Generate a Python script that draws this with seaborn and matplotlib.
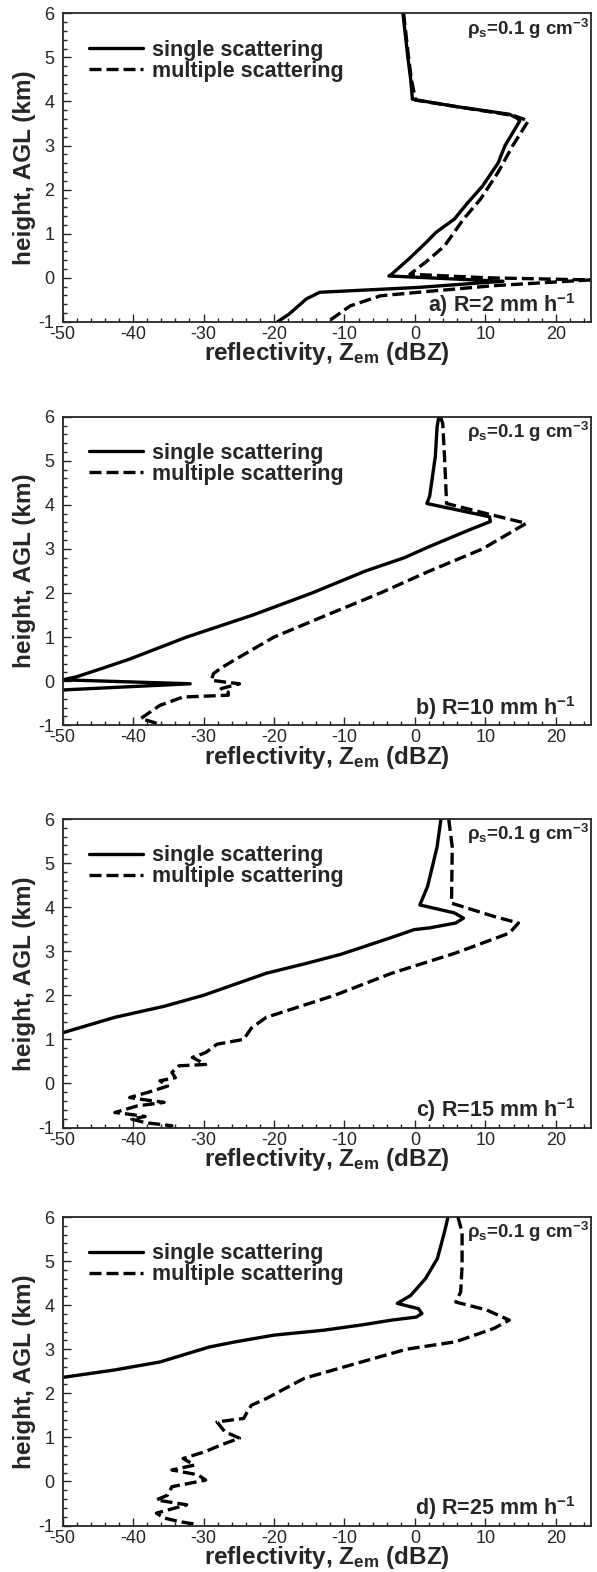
"""
Reflectivity profiles: single vs multiple scattering for four rain rates.
"""

import numpy as np
import pandas as pd
import matplotlib
matplotlib.use("Agg")
import matplotlib.pyplot as plt
from matplotlib.ticker import MultipleLocator
import seaborn as sns


# =============================================================================
# DATA
# =============================================================================

panel_labels = [
    r"a) R=2 mm h$^{\mathbf{-1}}$",
    r"b) R=10 mm h$^{\mathbf{-1}}$",
    r"c) R=15 mm h$^{\mathbf{-1}}$",
    r"d) R=25 mm h$^{\mathbf{-1}}$",
]

# panel a
a_single_z = [-1.7, -1.0, -0.6, -0.35, 0.0, 6.0, 13.4, 14.5, 14.9, 12.8, 11.8,
              9.6, 7.5, 5.6, 3.0, 1.6, -0.9, -3.3, -3.7, 12.5, 0.5, -13.5,
              -15.4, -17.9, -19.5]
a_single_h = [6.0, 5.0, 4.5, 4.05, 4.04, 3.88, 3.71, 3.62, 3.56, 3.0, 2.6,
              2.08, 1.7, 1.33, 1.03, 0.8, 0.42, 0.08, 0.04, -0.08, -0.22, -0.33,
              -0.48, -0.83, -1.0]
a_multi_z = [-1.6, -0.9, -0.5, 0.1, 6.0, 14.0, 16.1, 13.9, 11.8, 9.3, 6.9,
             4.2, 1.5, -0.7, 10.0, 24.9, 11.2, 0.5, -4.9, -9.2, -12.2]
a_multi_h = [6.0, 5.0, 4.5, 4.03, 3.88, 3.68, 3.56, 3.0, 2.39, 1.78, 1.33,
             0.72, 0.35, 0.08, 0.0, -0.05, -0.18, -0.33, -0.41, -0.64, -0.98]

# panel b
b_single_z = [3.4, 3.15, 2.9, 2.1, 1.7, 10.6, 10.7, 8.0, 5.0, 2.0, -1.5,
              -7.0, -14.6, -23.0, -32.4, -40.5, -44.2, -48.0, -50.0, -31.9,
              -50.0]
b_single_h = [6.0, 5.77, 5.1, 4.2, 4.03, 3.73, 3.62, 3.45, 3.25, 3.05, 2.8,
              2.5, 2.0, 1.5, 1.0, 0.5, 0.3, 0.1, 0.03, -0.06,
              -0.2]
b_multi_z = [3.6, 3.95, 4.2, 4.5, 10.2, 15.8, 9.6, 2.1, -4.9, -12.5, -20.0,
             -25.4, -27.5, -28.6, -28.9, -27.0, -24.9, -27.5, -26.5, -26.5,
             -32.9, -36.2, -38.3, -38.9, -37.2, -35.9]
b_multi_h = [6.0, 5.85, 5.1, 4.03, 3.8, 3.58, 3.0, 2.5, 2.0, 1.5, 1.0,
             0.5, 0.3, 0.17, 0.02, -0.02, -0.06, -0.17, -0.25, -0.32,
             -0.36, -0.55, -0.78, -0.85, -0.93, -1.0]

# panel c
c_single_z = [3.7, 3.15, 2.6, 1.8, 0.7, 5.6, 6.9, 5.8, 2.1, -0.1, -2.8, -7.1,
              -10.5, -15.5, -21.1, -30.0, -35.6, -42.6, -50.0]
c_single_h = [6.0, 5.37, 5.0, 4.47, 4.05, 3.87, 3.75, 3.64, 3.53, 3.49, 3.34,
              3.11, 2.93, 2.72, 2.5, 2.0, 1.75, 1.5, 1.15]
c_multi_z = [4.8, 5.3, 5.2, 11.2, 14.7, 13.4, 5.8, -3.3, -11.4, -21.1, -23.2,
             -24.3, -28.1, -29.7, -31.6, -29.7, -33.5, -34.5, -34.0, -36.2,
             -35.1, -37.2, -40.5, -38.9, -35.6, -39.4, -42.6, -40.5, -38.3,
             -40.2, -38.3, -34.5, -35.1]
c_multi_h = [6.0, 5.37, 4.09, 3.79, 3.64, 3.41, 2.96, 2.5, 2.0, 1.5, 1.26,
             1.0, 0.89, 0.7, 0.59, 0.43, 0.4, 0.25, 0.13, 0.06,
             -0.06, -0.17, -0.32, -0.36, -0.43, -0.51, -0.66, -0.7, -0.75,
             -0.81, -0.89, -0.96, -1.0]

# panel d
d_single_z = [4.7, 4.2, 3.2, 1.5, -0.6, -2.5, 0.5, 1.0, 0.2, -3.3, -7.6,
              -13.0, -20.0, -25.4, -29.2, -36.2, -42.6, -50.0]
d_single_h = [6.0, 5.66, 5.06, 4.6, 4.22, 4.04, 3.92, 3.81, 3.73, 3.66, 3.55,
              3.43, 3.32, 3.17, 3.05, 2.71, 2.53, 2.36]
d_multi_z = [6.1, 6.7, 6.7, 6.5, 5.8, 10.2, 13.4, 11.2, 5.8, -1.2, -7.6,
             -15.7, -21.1, -23.2, -23.8, -24.3, -28.1, -27.0, -24.9, -27.5,
             -29.7, -32.9, -31.3, -34.5, -30.8, -29.7, -34.5, -35.1, -36.7,
             -32.4, -36.7, -35.6, -33.5, -30.8]
d_multi_h = [6.0, 5.66, 4.9, 4.3, 4.07, 3.89, 3.66, 3.47, 3.17, 3.0, 2.71,
             2.34, 1.88, 1.73, 1.58, 1.43, 1.35, 1.13, 0.98, 0.83,
             0.68, 0.52, 0.37, 0.26, 0.15, 0.03, -0.12, -0.31, -0.42,
             -0.53, -0.72, -0.83, -0.91, -0.98]

single_z = [a_single_z, b_single_z, c_single_z, d_single_z]
single_h = [a_single_h, b_single_h, c_single_h, d_single_h]
multi_z = [a_multi_z, b_multi_z, c_multi_z, d_multi_z]
multi_h = [a_multi_h, b_multi_h, c_multi_h, d_multi_h]

x_ticks = [-50, -40, -30, -20, -10, 0, 10, 20]
y_ticks = [-1, 0, 1, 2, 3, 4, 5, 6]


# =============================================================================
# STYLE
# =============================================================================

sns.set_style("ticks")
plt.rcParams["font.family"] = ["Liberation Sans", "DejaVu Sans"]
plt.rcParams["mathtext.fontset"] = "custom"
plt.rcParams["mathtext.rm"] = "Liberation Sans"
plt.rcParams["mathtext.bf"] = "Liberation Sans:bold"
plt.rcParams["mathtext.it"] = "Liberation Sans:italic"
plt.rcParams["axes.linewidth"] = 1.3

W, H = 597, 1572
fig = plt.figure(figsize=(W / 100, H / 100), dpi=100)

left_px, right_px = 62.7, 591.0
panel_top_px = [13.3, 416.7, 819.0, 1217.0]
panel_h_px = 308.5


# =============================================================================
# PLOT
# =============================================================================

for i in range(4):
    top = panel_top_px[i]
    ax = fig.add_axes([
        left_px / W,
        1 - (top + panel_h_px) / H,
        (right_px - left_px) / W,
        panel_h_px / H,
    ])

    df_s = pd.DataFrame({"z": single_z[i], "h": single_h[i]})
    df_m = pd.DataFrame({"z": multi_z[i], "h": multi_h[i]})

    sns.lineplot(data=df_s, x="z", y="h", sort=False, estimator=None,
                 color="black", lw=2.4, label="single scattering", ax=ax)
    sns.lineplot(data=df_m, x="z", y="h", sort=False, estimator=None,
                 color="black", lw=2.4, label="multiple scattering", ax=ax)
    ax.lines[1].set_dashes((3.6, 1.5))

    ax.set_xlim(-50, 25)
    ax.set_ylim(-1, 6)

    ax.xaxis.set_minor_locator(MultipleLocator(2))
    ax.yaxis.set_minor_locator(MultipleLocator(0.2))
    ax.set_xticks(x_ticks)
    ax.set_xticklabels([str(t) for t in x_ticks])
    ax.set_yticks(y_ticks)
    ax.set_yticklabels([str(t) for t in y_ticks])
    ax.tick_params(which="both", direction="in", top=False, right=False,
                   labelsize=13, width=1.0)
    ax.tick_params(which="major", length=6)
    ax.tick_params(which="minor", length=3)
    ax.tick_params(axis="x", pad=3)
    ax.tick_params(axis="y", pad=6)

    ax.set_xlabel(r"reflectivity, Z$_{\mathbf{em}}$ (dBZ)",
                  fontsize=17.5, fontweight="bold", labelpad=-2)
    ax.set_ylabel("height, AGL (km)", fontsize=17.5, fontweight="bold",
                  labelpad=2)

    ax.legend(loc="upper left", bbox_to_anchor=(0.05, 0.915), frameon=False,
              prop={"size": 15.5, "weight": "bold"}, handlelength=2.5,
              handletextpad=0.4, labelspacing=0.0, borderpad=0,
              borderaxespad=0)

    ax.text(0.997, 0.95, r"ρ$_{\mathbf{s}}$=0.1 g cm$^{\mathbf{-3}}$",
            transform=ax.transAxes, ha="right", va="center",
            fontsize=13.5, fontweight="bold")
    ax.text(0.97, 0.055, panel_labels[i], transform=ax.transAxes,
            ha="right", va="center", fontsize=15.5, fontweight="bold")

fig.savefig("out.png", dpi=100)
